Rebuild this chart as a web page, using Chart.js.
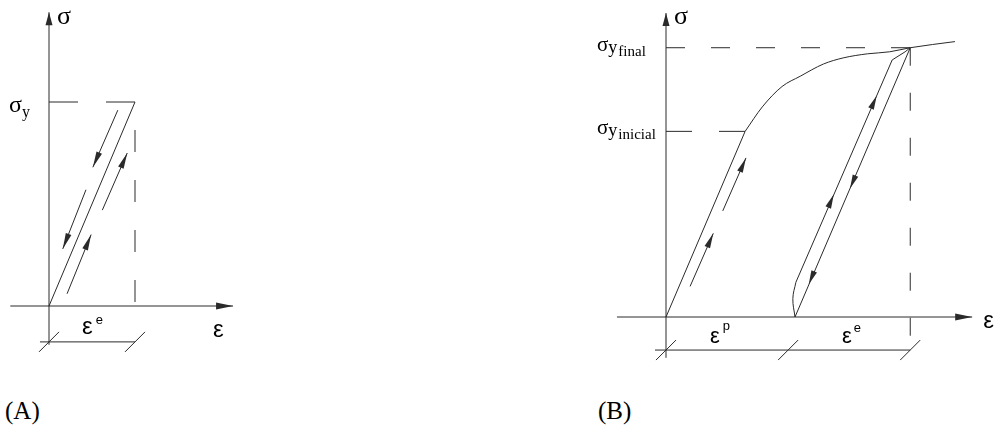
<!DOCTYPE html>
<html>
<head>
<meta charset="utf-8">
<script src="https://cdn.jsdelivr.net/npm/chart.js@4.4.1/dist/chart.umd.min.js"></script>
<style>
  body { margin: 0; background: #fff; width: 998px; height: 427px; position: relative; overflow: hidden; }
  canvas { position: absolute; top: 0; }
  .cap { position: absolute; font: 25px "Liberation Serif", serif; line-height: 25px; color: #000; }
</style>
</head>
<body>
<canvas id="chartA" width="260" height="370" style="left:0"></canvas>
<canvas id="chartB" width="408" height="370" style="left:590px"></canvas>
<div class="cap" style="left:5px;top:398px">(A)</div>
<div class="cap" style="left:598px;top:398px">(B)</div>

<script>
'use strict'

// ---- panel A : purely elastic (normalised strain / stress) ----
var axisEpsA = [-0.45, 2.14];
var axisSigA = [-0.19, 1.44];
var epsA = [0, 1.0];
var sigA = [0, 1.0];
var sigmaYA = 1.0;
var epsEA = 1.0;
var dimSigA = -0.176;
var dimStartA = -0.105;
// short arrows beside the elastic line: [eps tail, sig tail, eps tip, sig tip]
var arrowsA = [
  [0.80, 0.96, 0.51, 0.68],
  [0.43, 0.57, 0.16, 0.28],
  [0.62, 0.47, 0.91, 0.75],
  [0.21, 0.06, 0.49, 0.35]
];

// ---- panel B : elastoplastic with hardening ----
var axisEpsB = [-0.57, 3.56];
var axisSigB = [-0.20, 1.49];
var epsLoad = [0, 0.92];
var sigLoad = [0, 0.91];
var epsHard = [0.92, 1.12, 1.35, 1.56, 1.83, 2.06, 2.34, 2.60, 2.84, 3.36];
var sigHard = [0.91, 1.03, 1.13, 1.18, 1.24, 1.27, 1.29, 1.30, 1.32, 1.35];
var epsUnload = [2.84, 1.50];
var sigUnload = [1.32, 0];
var epsReloadFoot = [1.50, 1.475, 1.51];
var sigReloadFoot = [0, 0.09, 0.17];
var epsReload = [1.51, 2.63, 2.78, 2.84];
var sigReload = [0.17, 1.26, 1.30, 1.32];
var sigYi = 0.91, epsYi = 0.92;
var sigYf = 1.32, epsYf = 2.84;
var dimSigB = -0.162;
var dimStartB = -0.128;
var dimTicksB = [0, 1.42, 2.84];
var arrowsB = [
  [0.28, 0.15, 0.55, 0.41],
  [0.66, 0.52, 0.93, 0.78]
];
// arrowheads sitting on the reload / unload lines
var headsB = [
  [1.85, 0.50, 1.95, 0.60],
  [2.35, 0.99, 2.45, 1.085],
  [2.24, 0.73, 2.14, 0.63],
  [1.76, 0.26, 1.66, 0.16]
];

var INK = '#2a2a2a';
var K_EPS = 86;   // px per strain unit
var K_SIG = 204;  // px per stress unit
var SERIF = '"Liberation Serif", serif';
var SANS = '"Liberation Sans", sans-serif';

function scalesFor(w, h, ox, oy) {
  return {
    x: { type: 'linear', display: false, min: -ox / K_EPS, max: (w - ox) / K_EPS },
    y: { type: 'linear', display: false, min: -(h - oy) / K_SIG, max: oy / K_SIG }
  };
}

function line(eps, sig, extra) {
  var ds = {
    data: eps.map(function (e, i) { return { x: e, y: sig[i] }; }),
    showLine: true, borderColor: INK, borderWidth: 1, pointRadius: 0,
    fill: false, clip: false, tension: 0
  };
  for (var k in extra) ds[k] = extra[k];
  return ds;
}

function arrowHead(ctx, tail, tip, len, half) {
  var dx = tip[0] - tail[0], dy = tip[1] - tail[1];
  var d = Math.sqrt(dx * dx + dy * dy), ux = dx / d, uy = dy / d;
  var bx = tip[0] - ux * len, by = tip[1] - uy * len;
  ctx.beginPath();
  ctx.moveTo(tip[0], tip[1]);
  ctx.lineTo(bx - uy * half, by + ux * half);
  ctx.lineTo(bx + uy * half, by - ux * half);
  ctx.closePath();
  ctx.fill();
}

// arrowheads, dimension slashes and labels
function sketch(spec) {
  return {
    id: 'sketch',
    afterDatasetsDraw: function (chart) {
      var ctx = chart.ctx, xs = chart.scales.x, ys = chart.scales.y;
      function P(e, s) { return [xs.getPixelForValue(e), ys.getPixelForValue(s)]; }
      ctx.save();
      ctx.fillStyle = INK;
      ctx.strokeStyle = INK;
      ctx.lineWidth = 1;
      spec.arrows.forEach(function (a) {
        arrowHead(ctx, P(a[0], a[1]), P(a[2], a[3]), a[4] || 15, a[5] || 3);
      });
      spec.ticks.forEach(function (t) {
        var p = P(t[0], t[1]);
        ctx.beginPath();
        ctx.moveTo(p[0] - 10, p[1] + 10);
        ctx.lineTo(p[0] + 10, p[1] - 10);
        ctx.stroke();
      });
      ctx.fillStyle = '#000';
      ctx.textBaseline = 'alphabetic';
      spec.labels.forEach(function (lb) {
        var p = P(lb.at[0], lb.at[1]);
        var x = p[0] + lb.dx;
        lb.parts.forEach(function (pt) {
          ctx.font = pt.font;
          x += pt.gap || 0;
          ctx.fillText(pt.text, x, p[1] + lb.dy + (pt.dy || 0));
          x += ctx.measureText(pt.text).width;
        });
      });
      ctx.restore();
    }
  };
}

function baseOptions(scales) {
  return {
    responsive: false,
    animation: false,
    events: [],
    layout: { padding: 0, autoPadding: false },
    plugins: { legend: { display: false }, tooltip: { enabled: false } },
    scales: scales
  };
}

/*---- panel A ----*/
var dsA = [
  line(axisEpsA, [0, 0]),
  line([0, 0], axisSigA),
  line(epsA, sigA),
  line([0, epsEA], [sigmaYA, sigmaYA], { borderDash: [29, 28] }),
  line([epsEA, epsEA], [sigmaYA, 0], { borderDash: [22, 28], borderDashOffset: 22 }),
  line([dimStartA, epsEA], [dimSigA, dimSigA])
];
arrowsA.forEach(function (a) { dsA.push(line([a[0], a[2]], [a[1], a[3]])); });

new Chart(document.getElementById('chartA'), {
  type: 'scatter',
  data: { datasets: dsA },
  options: baseOptions(scalesFor(260, 370, 49, 306)),
  plugins: [sketch({
    arrows: [
      [axisEpsA[1] - 0.3, 0, axisEpsA[1], 0, 17, 3.5],
      [0, axisSigA[1] - 0.2, 0, axisSigA[1], 13, 3.5]
    ].concat(arrowsA.map(function (a) { return a.concat([16, 3]); })),
    ticks: [[0, dimSigA], [epsEA, dimSigA]],
    labels: [
      { at: [0, axisSigA[1]], dx: 8, dy: 12, parts: [{ text: 'σ', font: '26px ' + SERIF }] },
      { at: [0, sigmaYA], dx: -40, dy: 10, parts: [
        { text: 'σ', font: '24px ' + SERIF },
        { text: 'y', font: '16px ' + SERIF, dy: 5 }] },
      { at: [0, 0], dx: 33, dy: 28, parts: [
        { text: 'ε', font: '24px ' + SANS },
        { text: 'e', font: '13px ' + SANS, dy: -10, gap: 3 }] },
      { at: [axisEpsA[1], 0], dx: -20, dy: 31, parts: [{ text: 'ε', font: '24px ' + SANS }] }
    ]
  })]
});

/*---- panel B ----*/
var dsB = [
  line(axisEpsB, [0, 0]),
  line([0, 0], axisSigB),
  line(epsLoad, sigLoad),
  line(epsHard, sigHard, { cubicInterpolationMode: 'monotone' }),
  line(epsUnload, sigUnload),
  line(epsReloadFoot, sigReloadFoot, { tension: 0.4 }),
  line(epsReload, sigReload),
  line([0, epsYf], [sigYf, sigYf], { borderDash: [19, 26] }),
  line([0, epsYi], [sigYi, sigYi], { borderDash: [26, 27] }),
  line([epsYf, epsYf], [sigYf, dimSigB], { borderDash: [18, 27] }),
  line([dimStartB, epsYf], [dimSigB, dimSigB])
];
arrowsB.forEach(function (a) { dsB.push(line([a[0], a[2]], [a[1], a[3]])); });

new Chart(document.getElementById('chartB'), {
  type: 'scatter',
  data: { datasets: dsB },
  options: baseOptions(scalesFor(408, 370, 76, 317)),
  plugins: [sketch({
    arrows: [
      [axisEpsB[1] - 0.3, 0, axisEpsB[1], 0, 17, 3.5],
      [0, axisSigB[1] - 0.2, 0, axisSigB[1], 13, 3.5]
    ].concat(arrowsB.map(function (a) { return a.concat([15, 3]); }))
     .concat(headsB.map(function (a) { return a.concat([14, 3]); })),
    ticks: dimTicksB.map(function (e) { return [e, dimSigB]; }),
    labels: [
      { at: [0, axisSigB[1]], dx: 8, dy: 11, parts: [{ text: 'σ', font: '26px ' + SERIF }] },
      { at: [0, sigYf], dx: -69, dy: 3, parts: [
        { text: 'σ', font: '21px ' + SERIF },
        { text: 'y', font: '18px ' + SERIF, dy: 2 },
        { text: 'final', font: '15px ' + SERIF, dy: 5, gap: 1 }] },
      { at: [0, sigYi], dx: -69, dy: 3, parts: [
        { text: 'σ', font: '21px ' + SERIF },
        { text: 'y', font: '18px ' + SERIF, dy: 2 },
        { text: 'inicial', font: '15px ' + SERIF, dy: 5, gap: 1 }] },
      { at: [0, 0], dx: 44, dy: 26, parts: [
        { text: 'ε', font: '22px ' + SANS },
        { text: 'p', font: '13px ' + SANS, dy: -13, gap: 3 }] },
      { at: [0, 0], dx: 176, dy: 26, parts: [
        { text: 'ε', font: '22px ' + SANS },
        { text: 'e', font: '13px ' + SANS, dy: -11, gap: 2 }] },
      { at: [axisEpsB[1], 0], dx: 11, dy: 11, parts: [{ text: 'ε', font: '24px ' + SANS }] }
    ]
  })]
});
</script>
</body>
</html>
